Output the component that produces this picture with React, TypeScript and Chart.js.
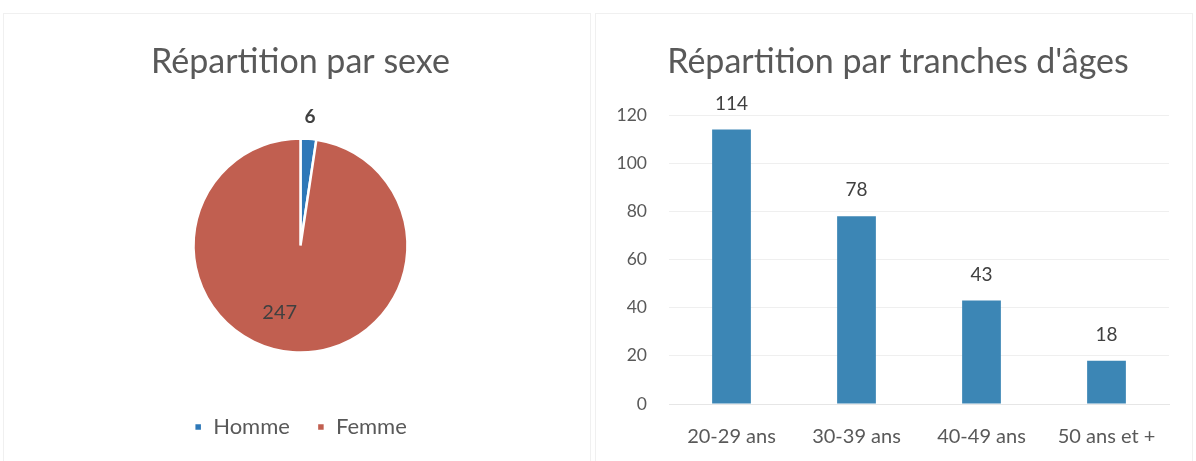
import React, { useEffect, useRef } from "react";
import { Chart, registerables } from "chart.js";

Chart.register(...registerables);

const sexLabels = ["Homme", "Femme"];
const sexValues = [6, 247];
const ageLabels = ["20-29 ans", "30-39 ans", "40-49 ans", "50 ans et +"];
const ageValues = [114, 78, 43, 18];
const yTicks = [0, 20, 40, 60, 80, 100, 120];

const FONT = "Lato, 'Noto Sans', sans-serif";
const GREY = "#595959";

const pieLabelPlugin = {
  id: "pieLabels",
  afterDatasetsDraw(chart: any) {
    const ctx = chart.ctx;
    const meta = chart.getDatasetMeta(0);
    const ds = chart.data.datasets[0];
    meta.data.forEach((arc: any, i: number) => {
      const { x, y, startAngle, endAngle, outerRadius } = arc.getProps(
        ["x", "y", "startAngle", "endAngle", "outerRadius"],
        true
      );
      let mid = (startAngle + endAngle) / 2;
      let r: number;
      ctx.save();
      if (i === 0) {
        r = outerRadius + 22;
        ctx.font = `bold 19px ${FONT}`;
      } else {
        mid += (13 * Math.PI) / 180;
        r = outerRadius * 0.655;
        ctx.font = `20px ${FONT}`;
      }
      ctx.fillStyle = "#404040";
      ctx.textAlign = "center";
      ctx.textBaseline = "middle";
      ctx.fillText(String(ds.data[i]), x + Math.cos(mid) * r, y + Math.sin(mid) * r);
      ctx.restore();
    });
  },
};

const barLabelPlugin = {
  id: "barLabels",
  afterDatasetsDraw(chart: any) {
    const ctx = chart.ctx;
    const meta = chart.getDatasetMeta(0);
    const ds = chart.data.datasets[0];
    ctx.save();
    ctx.font = `19px ${FONT}`;
    ctx.fillStyle = "#404040";
    ctx.textAlign = "center";
    ctx.textBaseline = "middle";
    meta.data.forEach((bar: any, i: number) => {
      ctx.fillText(String(ds.data[i]), bar.x, bar.y - 26);
    });
    ctx.restore();
  },
};

export default function App() {
  const pieRef = useRef<HTMLCanvasElement>(null);
  const barRef = useRef<HTMLCanvasElement>(null);

  useEffect(() => {
    const pie = new Chart(pieRef.current!, {
      type: "pie",
      data: {
        labels: sexLabels,
        datasets: [
          {
            data: sexValues,
            backgroundColor: ["#2E78B8", "#C15F50"],
            borderColor: "#ffffff",
            borderWidth: 2.5,
          },
        ],
      },
      options: {
        animation: false,
        responsive: false,
        devicePixelRatio: 1,
        radius: 107,
        layout: { padding: { left: 6, right: 0, top: 0, bottom: 13 } },
        plugins: {
          title: {
            display: true,
            text: "Répartition par sexe",
            color: GREY,
            font: { family: FONT, size: 34, weight: "normal" },
            padding: { top: 41.6, bottom: 19.6 },
          },
          legend: {
            position: "bottom",
            labels: {
              color: GREY,
              font: { family: FONT, size: 22 },
              boxWidth: 8,
              boxHeight: 8,
              padding: 27,
            },
          },
          tooltip: { enabled: false },
        },
      },
      plugins: [pieLabelPlugin],
    } as any);

    const bar = new Chart(barRef.current!, {
      type: "bar",
      data: {
        labels: ageLabels,
        datasets: [
          {
            data: ageValues,
            backgroundColor: "#3C86B5",
            categoryPercentage: 1,
            barPercentage: 0.31,
          },
        ],
      },
      options: {
        animation: false,
        responsive: false,
        devicePixelRatio: 1,
        layout: { padding: { left: 32, right: 27, top: 0, bottom: 0 } },
        scales: {
          x: {
            grid: { display: false, drawTicks: false },
            border: { display: true, color: "#e6e6e6" },
            ticks: { color: GREY, font: { family: FONT, size: 20 }, padding: 21 },
          },
          y: {
            min: 0,
            max: 120,
            afterBuildTicks: (axis: any) => {
              axis.ticks = yTicks.map((v) => ({ value: v }));
            },
            afterFit: (axis: any) => {
              axis.width = 42;
              axis._computeLabelArea = () => undefined;
            },
            grid: { color: "#efefef", drawTicks: false },
            border: { display: false },
            ticks: { color: GREY, font: { family: FONT, size: 17.5 }, padding: 22 },
          },
        },
        plugins: {
          title: {
            display: true,
            text: "Répartition par tranches d'âges",
            color: GREY,
            font: { family: FONT, size: 34, weight: "normal" },
            padding: { top: 41.6, bottom: 32.6 },
          },
          legend: { display: false },
          tooltip: { enabled: false },
        },
      },
      plugins: [barLabelPlugin],
    } as any);

    return () => {
      pie.destroy();
      bar.destroy();
    };
  }, []);

  return (
    <div
      style={{
        position: "fixed",
        left: 0,
        top: 0,
        width: 1196,
        height: 461,
        background: "#ffffff",
        overflow: "hidden",
      }}
    >
      <div
        style={{
          position: "absolute",
          left: 3,
          top: 13,
          width: 588,
          height: 460,
          border: "1px solid #f0f0f0",
          boxSizing: "border-box",
        }}
      />
      <div
        style={{
          position: "absolute",
          left: 595,
          top: 13,
          width: 598,
          height: 460,
          border: "1px solid #f0f0f0",
          boxSizing: "border-box",
        }}
      />
      <canvas
        ref={pieRef}
        width={595}
        height={461}
        style={{ position: "absolute", left: 0, top: 0, width: 595, height: 461 }}
      />
      <canvas
        ref={barRef}
        width={601}
        height={470}
        style={{ position: "absolute", left: 595, top: 0, width: 601, height: 470 }}
      />
    </div>
  );
}
